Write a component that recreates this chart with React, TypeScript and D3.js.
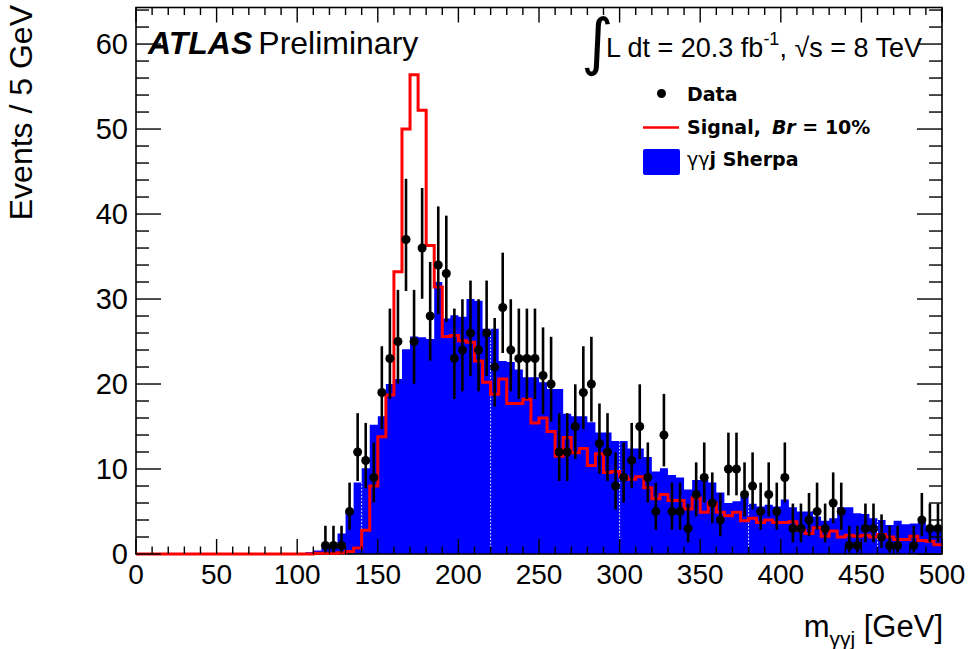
import React from "react";
import * as d3 from "d3";

const BIN_WIDTH = 5;
const binLow: number[] = d3.range(0, 500, BIN_WIDTH);

// Observed events per 5 GeV bin (0-500 GeV)
const dataCounts: number[] = [
  0, 0, 0, 0, 0, 0, 0, 0, 0, 0,
  0, 0, 0, 0, 0, 0, 0, 0, 0, 0,
  0, 0, 0, 1, 1, 1, 5, 12, 11, 9,
  19, 23, 25, 37, 25, 36, 28, 34, 33, 23,
  24, 26, 24, 26, 22, 29, 24, 23, 23, 23,
  21, 20, 12, 12, 15, 19, 20, 13, 12, 8,
  9, 11, 15, 9, 5, 14, 5, 5, 3, 7,
  9, 6, 4, 10, 10, 7, 8, 5, 7, 5,
  9, 3, 3, 4, 5, 3, 6, 5, 1, 1,
  3, 3, 2, 1, 1, 0, 1, 4, 3, 3,
];

// gamma gamma j Sherpa prediction
const sherpa: number[] = [
  0, 0, 0, 0, 0, 0, 0, 0, 0, 0,
  0, 0, 0, 0, 0, 0, 0, 0, 0, 0,
  0, 0.2, 0.4, 0.7, 0.9, 2.4, 5.0, 8.4, 10.1, 15.2,
  16.2, 20.0, 20.6, 24.1, 25.6, 25.5, 25.3, 32.0, 27.7, 28.1,
  27.9, 30.0, 29.8, 26.5, 26.5, 22.7, 22.6, 21.7, 20.8, 20.8,
  20.2, 19.4, 19.4, 16.5, 16.2, 16.2, 15.5, 14.3, 14.3, 13.3,
  13.3, 12.4, 12.4, 11.4, 9.7, 10.1, 9.3, 9.0, 7.6, 8.7,
  8.7, 8.4, 7.25, 6.0, 6.2, 6.8, 5.9, 5.6, 5.8, 5.6,
  6.4, 5.5, 5.0, 5.0, 4.4, 3.9, 4.2, 5.5, 5.5, 4.8,
  4.7, 4.2, 4.0, 3.4, 3.9, 3.5, 3.6, 3.7, 3.0, 3.2,
];

// Signal, Br = 10%
const signal: number[] = [
  0, 0, 0, 0, 0, 0, 0, 0, 0, 0,
  0, 0, 0, 0, 0, 0, 0, 0, 0, 0,
  0, 0, 0.1, 0.1, 0.1, 0.15, 0.3, 0.7, 2.8, 8.0,
  13.8, 18.7, 33.2, 50.0, 56.4, 52.2, 36.3, 31.4, 25.6, 25.7,
  25.1, 24.9, 22.7, 20.2, 18.8, 20.6, 17.7, 17.7, 18.2, 15.4,
  16.0, 14.4, 11.5, 13.7, 11.9, 12.4, 10.4, 11.8, 9.6, 9.7,
  9.1, 8.8, 9.1, 7.8, 6.5, 7.0, 6.3, 6.3, 5.3, 6.6,
  4.9, 6.0, 4.9, 4.5, 4.9, 3.9, 4.2, 3.7, 4.0, 3.7,
  3.7, 3.8, 2.8, 2.4, 3.1, 2.1, 2.7, 2.0, 2.2, 2.1,
  2.2, 2.0, 2.3, 2.0, 1.7, 1.7, 2.1, 1.6, 1.5, 1.1,
];

const xTickValues: number[] = [0, 50, 100, 150, 200, 250, 300, 350, 400, 450, 500];
const yTickValues: number[] = [0, 10, 20, 30, 40, 50, 60];
const seamEdges: number[] = [140, 220, 300, 380, 460];

const X_MAX = 500;
const Y_MAX = 64.3;

const errUp = (n: number) => Math.sqrt(n + 0.75) + 1;
const errLo = (n: number) =>
  n - n * Math.pow(1 - 1 / (9 * n) - 1 / (3 * Math.sqrt(n)), 3);

export default function App() {
  const W = 971;
  const H = 649;
  const L = 136, R = 942, T = 7.5, B = 554;
  const x = d3.scaleLinear().domain([0, X_MAX]).range([L, R]);
  const y = d3.scaleLinear().domain([0, Y_MAX]).range([B, T]);

  const stepPts = (vals: number[]) => {
    const pts = binLow.map((x0, i) => [x0, vals[i]] as [number, number]);
    pts.push([X_MAX, vals[vals.length - 1]]);
    return pts;
  };

  const area = d3
    .area<[number, number]>()
    .x((d) => x(d[0]))
    .y0(y(0))
    .y1((d) => y(d[1]))
    .curve(d3.curveStepAfter);
  const line = d3
    .line<[number, number]>()
    .x((d) => x(d[0]))
    .y((d) => y(d[1]))
    .curve(d3.curveStepAfter);

  const sherpaPath = area(stepPts(sherpa)) || "";
  const signalPath = line(stepPts(signal)) || "";

  const yMinor = d3.range(0, Y_MAX, 2).filter((v) => v % 10 !== 0);
  const xMinor = d3.range(0, X_MAX + 1, 10).filter((v) => v % 50 !== 0);

  const tickFont = "Liberation Sans, Arial, Helvetica, sans-serif";
  const legFont = "DejaVu Sans, Verdana, sans-serif";

  return (
    <svg
      width={W}
      height={H}
      viewBox={`0 0 ${W} ${H}`}
      style={{ position: "absolute", left: 0, top: 0, background: "#fff" }}
    >
      <rect x={0} y={0} width={W} height={H} fill="#fff" />

      {/* Sherpa filled histogram */}
      <path d={sherpaPath} fill="#0000ff" stroke="none" />
      {seamEdges.map((e) => {
        const i = binLow.indexOf(e);
        const v = Math.min(sherpa[i] ?? 0, sherpa[i - 1] ?? 0);
        return (
          <line
            key={"seam" + e}
            x1={x(e)}
            x2={x(e)}
            y1={y(0)}
            y2={y(v)}
            stroke="#ffffff"
            strokeWidth={1}
            strokeDasharray="2 1.5"
            opacity={0.85}
          />
        );
      })}

      {/* Frame */}
      <rect x={L} y={T} width={R - L} height={B - T} fill="none" stroke="#000" strokeWidth={1.6} />

      {/* Signal histogram */}
      <path d={signalPath} fill="none" stroke="#ff0000" strokeWidth={3} strokeLinejoin="miter" />

      {/* Data points */}
      {binLow.map((x0, i) => {
        const n = dataCounts[i];
        if (n <= 0) return null;
        const cx = x(x0 + BIN_WIDTH / 2);
        return (
          <g key={"d" + i}>
            <line
              x1={cx}
              x2={cx}
              y1={y(n + errUp(n))}
              y2={y(n - errLo(n))}
              stroke="#000"
              strokeWidth={2.6}
            />
            <circle cx={cx} cy={y(n)} r={4.5} fill="#000" />
          </g>
        );
      })}

      {/* Y ticks (left and right) */}
      {yTickValues.map((v) => (
        <g key={"yt" + v}>
          <line x1={L} x2={L + 25} y1={y(v)} y2={y(v)} stroke="#000" strokeWidth={1.4} />
          <line x1={R} x2={R - 25} y1={y(v)} y2={y(v)} stroke="#000" strokeWidth={1.4} />
          <text
            x={128}
            y={y(v)}
            dy="0.355em"
            textAnchor="end"
            fontFamily={tickFont}
            fontSize={29}
            fill="#000"
          >
            {v}
          </text>
        </g>
      ))}
      {yMinor.map((v) => (
        <g key={"ym" + v}>
          <line x1={L} x2={L + 13} y1={y(v)} y2={y(v)} stroke="#000" strokeWidth={1.4} />
          <line x1={R} x2={R - 13} y1={y(v)} y2={y(v)} stroke="#000" strokeWidth={1.4} />
        </g>
      ))}

      {/* X ticks (bottom and top) */}
      {xTickValues.map((v) => (
        <g key={"xt" + v}>
          <line x1={x(v)} x2={x(v)} y1={B} y2={B - 15} stroke="#000" strokeWidth={1.4} />
          <line x1={x(v)} x2={x(v)} y1={T} y2={T + 15} stroke="#000" strokeWidth={1.4} />
          <text
            x={x(v)}
            y={584}
            textAnchor="middle"
            fontFamily={tickFont}
            fontSize={28}
            fill="#000"
          >
            {v}
          </text>
        </g>
      ))}
      {xMinor.map((v) => (
        <g key={"xm" + v}>
          <line x1={x(v)} x2={x(v)} y1={B} y2={B - 7.5} stroke="#000" strokeWidth={1.4} />
          <line x1={x(v)} x2={x(v)} y1={T} y2={T + 7.5} stroke="#000" strokeWidth={1.4} />
        </g>
      ))}

      {/* Axis titles */}
      <text
        transform="translate(32,5) rotate(-90)"
        textAnchor="end"
        fontFamily={tickFont}
        fontSize={32}
        fill="#000"
      >
        Events / 5 GeV
      </text>
      <text x={943} y={637} textAnchor="end" fontFamily={tickFont} fontSize={31} fill="#000">
        m
        <tspan fontSize={21} dy={9}>γγj</tspan>
        <tspan dy={-9}> [GeV]</tspan>
      </text>

      {/* ATLAS label */}
      <text x={148} y={54} fontFamily={tickFont} fontSize={32} fill="#000">
        <tspan fontWeight="bold" fontStyle="italic">ATLAS</tspan>
        <tspan dx={6}>Preliminary</tspan>
      </text>

      {/* Luminosity label */}
      <text x={581} y={63} fontFamily={legFont} fontSize={62} fill="#000">∫</text>
      <text x={606} y={57} fontFamily={tickFont} fontSize={27} fill="#000">
        L dt = 20.3 fb
        <tspan fontSize={18} dy={-12}>-1</tspan>
        <tspan dy={12}>, √s = 8 TeV</tspan>
      </text>

      {/* Legend */}
      <circle cx={661.5} cy={93.5} r={4.5} fill="#000" />
      <text x={687} y={101} fontFamily={legFont} fontWeight="bold" fontSize={19} fill="#000">
        Data
      </text>
      <line x1={643} x2={679} y1={127.5} y2={127.5} stroke="#ff0000" strokeWidth={2.5} />
      <text x={687} y={133.5} fontFamily={legFont} fontWeight="bold" fontSize={19} fill="#000">
        Signal,
        <tspan dx={11} fontStyle="italic">Br</tspan>
        <tspan> = 10%</tspan>
      </text>
      <rect x={643} y={149} width={37} height={26} rx={2} fill="#0000ff" />
      <text x={687} y={165.5} fontFamily={legFont} fontSize={19} fill="#000">
        γγ
        <tspan fontWeight="bold">j Sherpa</tspan>
      </text>
    </svg>
  );
}
